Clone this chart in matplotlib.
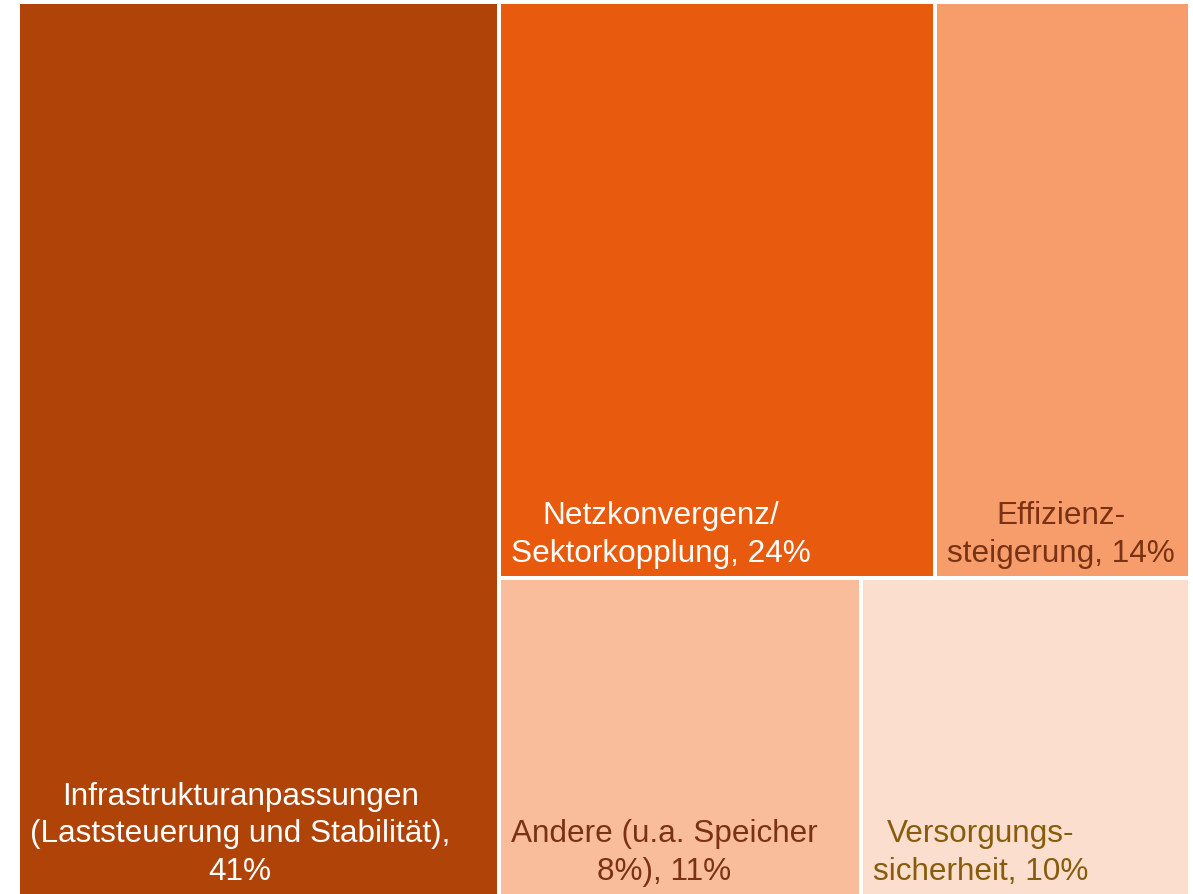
import matplotlib.pyplot as plt
from matplotlib.patches import Rectangle

# Treemap data
labels = [
    "Infrastrukturanpassungen\n(Laststeuerung und Stabilität),\n41%",
    "Netzkonvergenz/\nSektorkopplung, 24%",
    "Effizienz-\nsteigerung, 14%",
    "Andere (u.a. Speicher\n8%), 11%",
    "Versorgungs-\nsicherheit, 10%",
]
values = [41, 24, 14, 11, 10]
colors = ["#B04408", "#E85B0E", "#F79D6C", "#F9BD9B", "#FBDECD"]
text_colors = ["white", "white", "#7A3212", "#7A3212", "#875C0C"]

W, H = 1193, 895
x0, y0, x1, y1 = 18, 3, 1190, 897
gap = 4

fig = plt.figure(figsize=(W / 100, H / 100), dpi=100)
ax = fig.add_axes([0, 0, 1, 1])
ax.set_xlim(0, W)
ax.set_ylim(H, 0)
ax.axis("off")


def layout(vals):
    # first item takes a full-height column, the rest go into two rows
    total = sum(vals)
    w = x1 - x0
    h = y1 - y0
    rects = []
    cw = w * vals[0] / total
    rects.append((x0, y0, cw, h))
    rest = total - vals[0]
    rx = x0 + cw
    rw = w - cw
    ry = y0
    for row in [[1, 2], [3, 4]]:
        s = sum(vals[i] for i in row)
        rh = h * s / rest
        cx = rx
        for i in row:
            iw = rw * vals[i] / s
            rects.append((cx, ry, iw, rh))
            cx += iw
        ry += rh
    return rects


for i, (x, y, w, h) in enumerate(layout(values)):
    ax.add_patch(Rectangle((x + gap / 2, y + gap / 2), w - gap, h - gap,
                           facecolor=colors[i], edgecolor="none"))
    ax.text(x + gap / 2 + 10, y + h - 10, labels[i], ha="left", va="bottom",
            multialignment="center", fontsize=22.7, color=text_colors[i],
            family="Liberation Sans", linespacing=1.33)

fig.savefig("out.png", dpi=100)
